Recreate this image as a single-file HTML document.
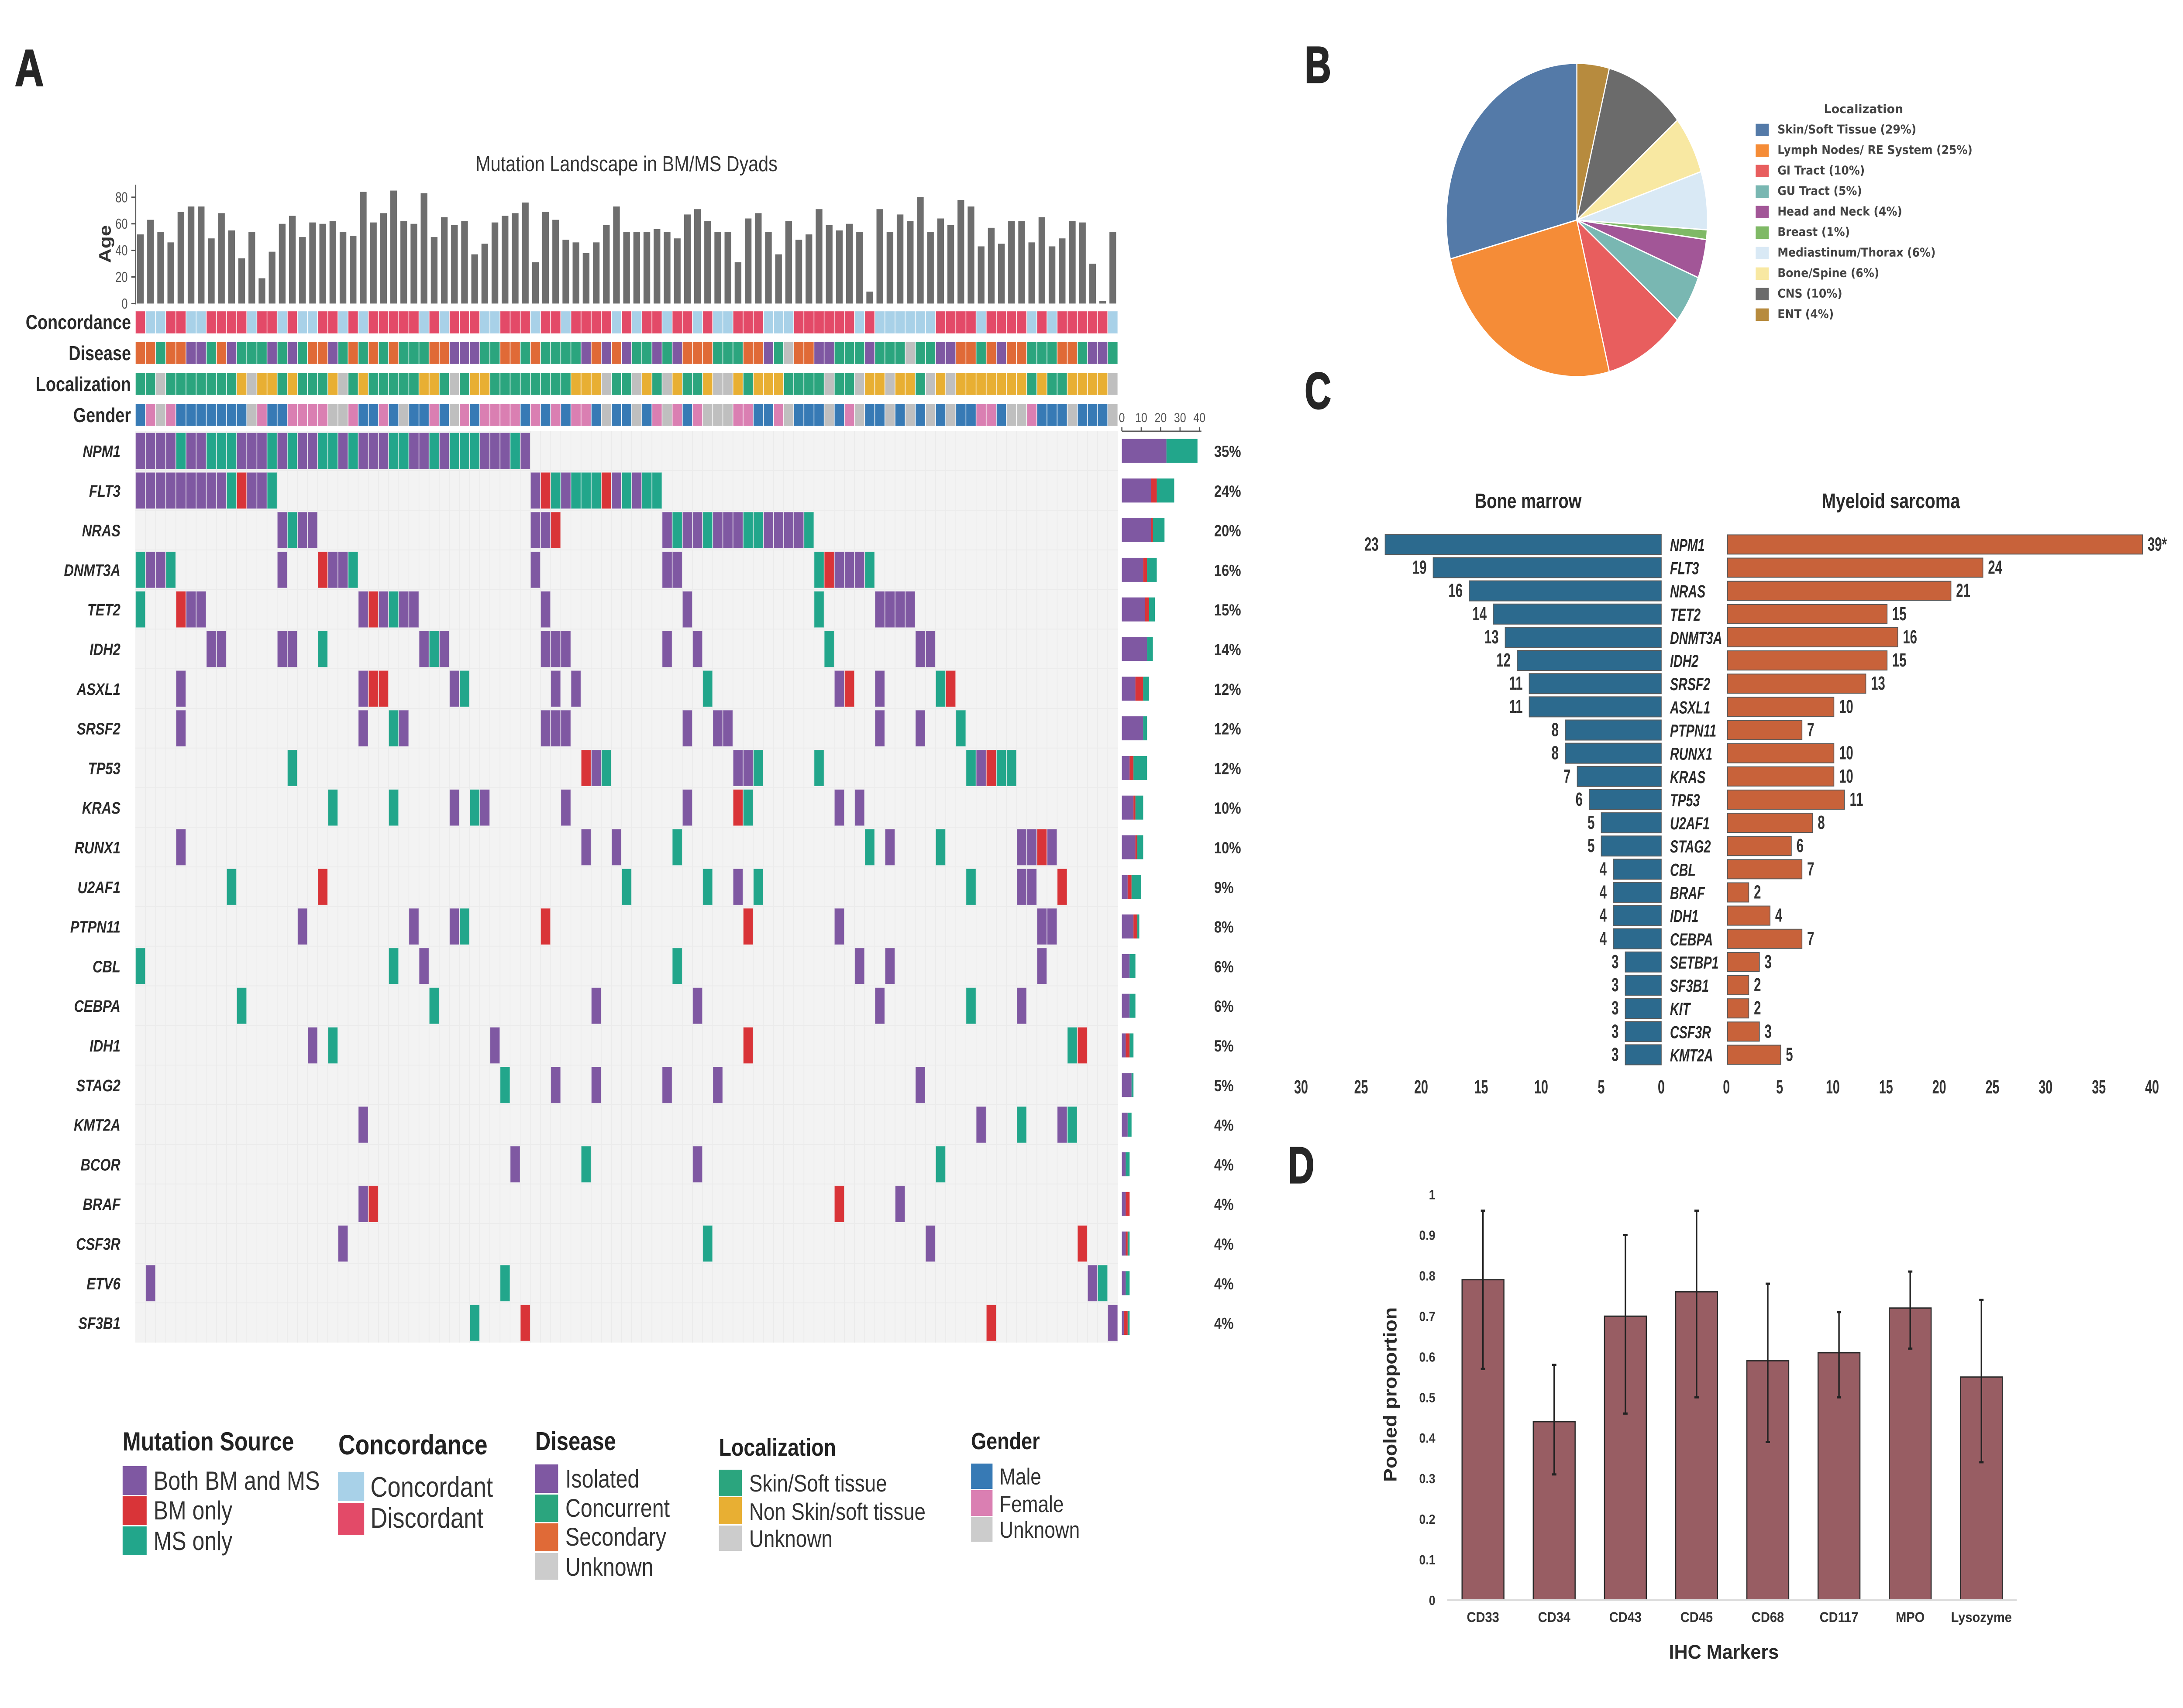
<!DOCTYPE html>
<html lang="en">
<head>
<meta charset="utf-8">
<title>Mutation Landscape in BM/MS Dyads</title>
<style>
html,body{margin:0;padding:0;background:#fff;width:100%;height:100%;overflow:hidden;}
svg{display:block;width:100%;height:100%;}
text{font-family:"Liberation Sans",Arial,sans-serif;}
.bold{font-weight:700;}
.dj{font-family:"DejaVu Sans",sans-serif;font-weight:700;}
.leg{fill:#333;}
.legt{fill:#222;font-weight:700;}
.letter{font-weight:700;fill:#262626;stroke:#262626;stroke-width:3;font-size:118px;}
</style>
</head>
<body>
<svg id="figure" xmlns="http://www.w3.org/2000/svg" viewBox="0 0 6000 3913" preserveAspectRatio="none">
<rect x="0" y="0" width="6000" height="3913" fill="#ffffff"/>

<text class="letter" transform="translate(41 196) scale(.93 1)">A</text>
<text class="letter" transform="translate(3586 189) scale(.85 1)">B</text>
<text class="letter" transform="translate(3586 936) scale(.85 1)">C</text>
<text class="letter" transform="translate(3540 2710) scale(.85 1)">D</text>

<text x="1307" y="392" font-size="49.5" fill="#333" textLength="830" lengthAdjust="spacingAndGlyphs">Mutation Landscape in BM/MS Dyads</text>
<text class="bold" font-size="46" fill="#333" text-anchor="middle" transform="translate(304 559) rotate(-90)">Age</text>

<g id="age-layer"></g>
<g id="track-layer"></g>
<g id="heat-layer"></g>
<g id="stack-layer"></g>

<g>
  <text class="legt" x="337" y="3323" font-size="60" textLength="471" lengthAdjust="spacingAndGlyphs">Mutation Source</text>
  <rect x="337" y="3359" width="66" height="66" fill="#7f58a2"/>
  <rect x="337" y="3428" width="66" height="66" fill="#d93438"/>
  <rect x="337" y="3497" width="66" height="66" fill="#22a68b"/>
  <text class="leg" x="422" y="3413" font-size="60" textLength="457" lengthAdjust="spacingAndGlyphs">Both BM and MS</text>
  <text class="leg" x="422" y="3481" font-size="60">BM only</text>
  <text class="leg" x="422" y="3551" font-size="60">MS only</text>
</g>
<g>
  <text class="legt" x="930" y="3332" font-size="64" textLength="410" lengthAdjust="spacingAndGlyphs">Concordance</text>
  <rect x="929" y="3372" width="72" height="67" fill="#a8d1e8"/>
  <rect x="929" y="3443" width="72" height="73" fill="#e34a68"/>
  <text class="leg" x="1018" y="3429" font-size="65" textLength="337" lengthAdjust="spacingAndGlyphs">Concordant</text>
  <text class="leg" x="1018" y="3500" font-size="65">Discordant</text>
</g>
<g>
  <text class="legt" x="1471" y="3322" font-size="59" textLength="222" lengthAdjust="spacingAndGlyphs">Disease</text>
  <rect x="1471" y="3355" width="63" height="65" fill="#7f58a2"/>
  <rect x="1471" y="3424" width="63" height="63" fill="#2ba57e"/>
  <rect x="1471" y="3490" width="63" height="64" fill="#e06a37"/>
  <rect x="1471" y="3558" width="63" height="61" fill="#cccccc"/>
  <text class="leg" x="1554" y="3408" font-size="58">Isolated</text>
  <text class="leg" x="1554" y="3475" font-size="58">Concurrent</text>
  <text class="leg" x="1554" y="3541" font-size="58">Secondary</text>
  <text class="leg" x="1554" y="3610" font-size="58">Unknown</text>
</g>
<g>
  <text class="legt" x="1976" y="3335" font-size="56" textLength="322" lengthAdjust="spacingAndGlyphs">Localization</text>
  <rect x="1976" y="3367" width="63" height="61" fill="#2ba57e"/>
  <rect x="1976" y="3430" width="63" height="62" fill="#e8af33"/>
  <rect x="1976" y="3495" width="63" height="58" fill="#cccccc"/>
  <text class="leg" x="2059" y="3417" font-size="55">Skin/Soft tissue</text>
  <text class="leg" x="2059" y="3482" font-size="55" textLength="485" lengthAdjust="spacingAndGlyphs">Non Skin/soft tissue</text>
  <text class="leg" x="2059" y="3544" font-size="55">Unknown</text>
</g>
<g>
  <text class="legt" x="2669" y="3320" font-size="54" textLength="189" lengthAdjust="spacingAndGlyphs">Gender</text>
  <rect x="2669" y="3353" width="59" height="58" fill="#377ab5"/>
  <rect x="2669" y="3414" width="59" height="59" fill="#da7fb2"/>
  <rect x="2669" y="3476" width="59" height="56" fill="#cccccc"/>
  <text class="leg" x="2747" y="3401" font-size="53">Male</text>
  <text class="leg" x="2747" y="3464" font-size="53">Female</text>
  <text class="leg" x="2747" y="3523" font-size="53">Unknown</text>
</g>

<g id="pie-layer"></g>
<text class="dj" x="5013" y="259" font-size="27.5" fill="#444" textLength="218" lengthAdjust="spacingAndGlyphs">Localization</text>
<g id="pie-legend-layer"></g>

<text class="bold" x="4053" y="1164" font-size="48" fill="#2a2a2a" textLength="294" lengthAdjust="spacingAndGlyphs">Bone marrow</text>
<text class="bold" x="5007" y="1164" font-size="48" fill="#2a2a2a" textLength="380" lengthAdjust="spacingAndGlyphs">Myeloid sarcoma</text>
<g id="pyramid-layer"></g>

<g id="ihc-layer"></g>
<text class="bold" x="4587" y="3800" font-size="45" fill="#2a2a2a" textLength="302" lengthAdjust="spacingAndGlyphs">IHC Markers</text>
<text class="bold" font-size="50" fill="#2a2a2a" text-anchor="middle" textLength="400" lengthAdjust="spacingAndGlyphs" transform="translate(3838 3195) rotate(-90)">Pooled proportion</text>
</svg>

<script>
/* ---------- Panel A data ---------- */
const ages = [52,63,54,46,69,73,73,49,68,55,34,54,19,39,60,66,50,61,60,62,54,51,84,61,68,85,62,60,83,50,65,59,62,37,45,61,66,68,76,31,69,63,48,46,38,46,59,73,54,54,54,56,54,49,67,71,62,54,54,31,64,68,54,37,62,48,52,71,59,55,60,54,9,71,54,67,62,80,54,64,59,78,73,43,57,45,62,62,46,65,43,49,62,61,30,2,54];
const ageTicks = [0,20,40,60,80];
const concordanceTrack = "DCCDDCCDDDDCDDCDCCDDCDCDDDDDCDCDDDCCDDDCDDCDDDDCDCDDCDDCDCCDDDCCCDDDDDDCDCCCCCCDDDDCDDDDCDCDDDDDC".split("");
const diseaseTrack = "SSCSSIICSICCCICICSSICSCSCSCCCSSIIICCSSCSCCCCISISICCICISSSCCCSSICUSSIICCCICCCUCCIISSCSISSCCCSSCIIC".split("");
const localizationTrack = "KKUKKKKKKKNUNNKNKKKNUKNKKKKKNNKUKNNKKKKKKKKNNNUKKUNKUNKKNUUNKNNNKKKKUKKUNNUNNKUNUNNNNNNNKNKKNNNNU".split("");
const genderTrack = "MFUFMMMMMMMUFMMFFFFUUFMMFMUMMFMUFMFFFFMFMFMFFMUMMUMFUFMFUUUFFMMFUMMMUMFUMMUMUMUMUMMFFMUUFMMMUMMMU".split("");
const oncoGenes = ["NPM1","FLT3","NRAS","DNMT3A","TET2","IDH2","ASXL1","SRSF2","TP53","KRAS","RUNX1","U2AF1","PTPN11","CBL","CEBPA","IDH1","STAG2","KMT2A","BCOR","BRAF","CSF3R","ETV6","SF3B1"];
const oncoPercents = ["35%","24%","20%","16%","15%","14%","12%","12%","12%","10%","10%","9%","8%","6%","6%","5%","5%","4%","4%","4%","4%","4%","4%"];
const samplesBoth = [
 [0,1,2,3,5,6,10,11,12,14,16,17,20,22,23,24,27,28,30,34,35,36,38],
 [0,1,2,3,4,5,6,7,8,11,12,39,42,47,49],
 [14,16,17,39,40,52,54,55,57,58,59,62,63,64,65],
 [1,2,14,19,20,39,52,53,69,70,71],
 [5,6,22,24,26,27,40,54,73,74,75,76],
 [7,8,14,15,28,30,40,41,42,52,55,77,78],
 [4,22,31,41,43,69,73],
 [4,22,26,40,41,42,54,57,58,73,77],
 [45,59,60,83],
 [31,34,42,54,69,71],
 [4,44,47,74,87,88,90],
 [59,87,88],
 [16,27,31,69,89,90],
 [28,71,74,89],
 [45,55,73,87],
 [17,35],
 [41,45,52,57,77],
 [22,83,91],
 [37,55],
 [22,75],
 [20,78],
 [1,94],
 [96]
];
const samplesBMOnly = [
 [],[10,40,46],[41],[18,68],[4,23],[],[23,24,70,80],[],[44,84],[59],[89],[18,91],[40,60],[],[],[60,93],[],[],[],[23,69],[93],[],[38,84]
];
const samplesMSOnly = [
 [4,7,8,9,13,15,18,19,21,25,26,29,31,32,33,37],
 [9,13,41,43,44,45,48,50,51],
 [15,53,56,60,61,66],
 [0,3,21,67,72],
 [0,25,67],
 [18,29,68],
 [32,56,79],
 [25,81],
 [15,46,61,67,82,85,86],
 [19,25,33,60],
 [53,72,79],
 [9,48,56,61,82],
 [32],
 [0,25,53],
 [10,29,82],
 [19,92],
 [36],
 [87,92],
 [44,79],
 [],
 [56],
 [36,95],
 [33]
];
const freqBoth = [23,15,15,11,12,13,7,11,4,6,7,3,6,4,4,2,5,3,2,2,2,2,1];
const freqBM = [0,3,1,2,2,0,4,0,2,1,1,2,2,0,0,2,0,0,0,2,1,0,2];
const freqMS = [16,9,6,5,3,3,3,2,7,4,3,5,1,3,3,2,1,2,2,0,1,2,1];
const freqTicks = [0,10,20,30,40];

/* ---------- Panel B data ---------- */
const pieNames = ["Skin/Soft Tissue","Lymph Nodes/ RE System","GI Tract","GU Tract","Head and Neck","Breast","Mediastinum/Thorax","Bone/Spine","CNS","ENT"];
const pieValues = [29,25,10,5,4,1,6,6,10,4];

/* ---------- Panel C data ---------- */
const pyramidGenes = ["NPM1","FLT3","NRAS","TET2","DNMT3A","IDH2","SRSF2","ASXL1","PTPN11","RUNX1","KRAS","TP53","U2AF1","STAG2","CBL","BRAF","IDH1","CEBPA","SETBP1","SF3B1","KIT","CSF3R","KMT2A"];
const boneMarrowCounts = [23,19,16,14,13,12,11,11,8,8,7,6,5,5,4,4,4,4,3,3,3,3,3];
const sarcomaCounts = [39,24,21,15,16,15,13,10,7,10,10,11,8,6,7,2,4,7,3,2,2,3,5];
const boneMarrowTicks = [30,25,20,15,10,5,0];
const sarcomaTicks = [0,5,10,15,20,25,30,35,40];

/* ---------- Panel D data ---------- */
const ihcMarkers = ["CD33","CD34","CD43","CD45","CD68","CD117","MPO","Lysozyme"];
const ihcValues = [0.79,0.44,0.70,0.76,0.59,0.61,0.72,0.55];
const ihcLower = [0.57,0.31,0.46,0.50,0.39,0.50,0.62,0.34];
const ihcUpper = [0.96,0.58,0.90,0.96,0.78,0.71,0.81,0.74];
const ihcTicks = ["0","0.1","0.2","0.3","0.4","0.5","0.6","0.7","0.8","0.9","1"];

/* ---------- Helpers and axis functions ---------- */
const NS = "http://www.w3.org/2000/svg";
function shape(parent, tag, props) {
  const el = document.createElementNS(NS, tag);
  for (const k in props) el.setAttribute(k, props[k]);
  parent.appendChild(el);
  return el;
}
function label(parent, str, x, y, size, o) {
  o = o || {};
  const el = document.createElementNS(NS, "text");
  el.textContent = str;
  el.setAttribute("transform", "translate(" + x + " " + y + ") scale(" + (o.sx || 1) + " 1)");
  el.setAttribute("font-size", size);
  el.setAttribute("fill", o.fill || "#333");
  el.setAttribute("text-anchor", o.anchor || "start");
  if (o.bold) el.setAttribute("font-weight", "700");
  if (o.italic) el.setAttribute("font-style", "italic");
  if (o.family) el.setAttribute("style", "font-family:" + o.family);
  parent.appendChild(el);
  return el;
}
const colX = i => 372 + 27.84 * i;
const ageY = v => 695.4 - 3.045 * v;
const rowCenter = i => 1033 + 90.8 * i;
const freqX = v => 3083.4 + 5.33 * v;
const bmX = v => 4566 - 33 * v;
const msX = v => 4748 + 29.25 * v;
const pyrRow = i => 1247.4 + 53.14 * i;
const propY = v => 3666 - 929.5 * v;
const ihcX = i => 4076 + 195.7 * i;

/* ---------- Age bars ---------- */
const ageLayer = document.getElementById("age-layer");
ages.forEach((v, i) => {
  const bar = shape(ageLayer, "rect", {x: colX(i) + 4.7, y: ageY(v), width: 18.4, height: ageY(0) - ageY(v), fill: "#6e6e6e"});
  
  
});
const ageAxis = shape(ageLayer, "line", {x1: 373, x2: 373, y1: 423, y2: ageY(0) + 2, stroke: "#555", "stroke-width": 3});


ageTicks.forEach(v => {
  const tick = shape(ageLayer, "line", {x1: 361, x2: 373, y1: ageY(v), y2: ageY(v), stroke: "#555", "stroke-width": 3});
  
  
  const t = label(ageLayer, String(v), 351, ageY(v) + 11.5, 33, {anchor: "end", sx: .92, fill: "#555"});
  
  
});

/* ---------- Annotation tracks ---------- */
const trackLayer = document.getElementById("track-layer");
const trackDefs = [
  {title: "Concordance", codes: concordanceTrack, top: 713, base: 754, colors: {C: "#a8d1e8", D: "#e34a68"}},
  {title: "Disease", codes: diseaseTrack, top: 783, base: 825, colors: {I: "#7f58a2", C: "#2ba57e", S: "#e06a37", U: "#bfbfbf"}},
  {title: "Localization", codes: localizationTrack, top: 854, base: 896, colors: {K: "#2ba57e", N: "#e8af33", U: "#bfbfbf"}},
  {title: "Gender", codes: genderTrack, top: 925, base: 967, colors: {M: "#377ab5", F: "#da7fb2", U: "#bfbfbf"}}
];
trackDefs.forEach(tr => {
  const t = label(trackLayer, tr.title, 360, tr.base, 46, {anchor: "end", bold: true, sx: .985, fill: "#2a2a2a"});
  
  
  tr.codes.forEach((c, i) => {
    const cell = shape(trackLayer, "rect", {x: colX(i) + .7, y: tr.top, width: 26.4, height: 51, fill: tr.colors[c], stroke: "#ffffff", "stroke-opacity": .35, "stroke-width": 1.2});
    
    
  });
});

/* ---------- Heatmap ---------- */
const heatLayer = document.getElementById("heat-layer");
const heatBg = shape(heatLayer, "rect", {x: 372, y: 987.3, width: colX(97) - 372, height: 90.8 * oncoGenes.length, fill: "#f3f3f3"});


ages.forEach((_, i) => {
  if (i === 0) return;
  const g = shape(heatLayer, "line", {x1: colX(i), x2: colX(i), y1: 987.3, y2: 987.3 + 90.8 * oncoGenes.length, stroke: "#ebebeb", "stroke-width": 2});
  
  
});
oncoGenes.forEach((gene, r) => {
  if (r > 0) {
    const g = shape(heatLayer, "line", {x1: 372, x2: colX(97), y1: rowCenter(r) - 45.7, y2: rowCenter(r) - 45.7, stroke: "#ebebeb", "stroke-width": 2});
    
    
  }
  const t = label(heatLayer, gene, 331, rowCenter(r) + 14, 38, {anchor: "end", bold: true, italic: true, sx: .98, fill: "#2a2a2a"});
  
  
  const pct = label(heatLayer, oncoPercents[r], 3337, rowCenter(r) + 14, 37, {bold: true, fill: "#333"});
  
  
  [[samplesBoth, "#7f58a2", "both"], [samplesBMOnly, "#d93438", "bm"], [samplesMSOnly, "#22a68b", "ms"]].forEach(set => {
    set[0][r].forEach(c => {
      const cell = shape(heatLayer, "rect", {x: colX(c) + .7, y: rowCenter(r) - 41.5, width: 26.4, height: 83, fill: set[1], stroke: "#ffffff", "stroke-opacity": .35, "stroke-width": 1.2});
      
      
    });
  });
});

/* ---------- Stacked frequency bars ---------- */
const stackLayer = document.getElementById("stack-layer");
oncoGenes.forEach((gene, r) => {
  let cum = 0;
  [[freqBoth, "#7f58a2", "both"], [freqBM, "#d93438", "bm"], [freqMS, "#22a68b", "ms"]].forEach(s => {
    const v = s[0][r];
    if (v > 0) {
      const seg = shape(stackLayer, "rect", {x: freqX(cum), y: rowCenter(r) - 27.5, width: freqX(cum + v) - freqX(cum), height: 55, fill: s[1]});
      
      
    }
    cum += v;
  });
});
const fAxis = shape(stackLayer, "line", {x1: freqX(0), x2: 3302, y1: 988, y2: 988, stroke: "#555", "stroke-width": 3});


freqTicks.forEach(v => {
  const tick = shape(stackLayer, "line", {x1: freqX(v), x2: freqX(v), y1: 979, y2: 988, stroke: "#555", "stroke-width": 3});
  
  
  const t = label(stackLayer, String(v), freqX(v), 967, 30, {anchor: "middle", fill: "#555"});
  
  
});

/* ---------- Pie ---------- */
const pieLayer = document.getElementById("pie-layer");
const pieLegendLayer = document.getElementById("pie-legend-layer");
const pieColors = ["#547aa8","#f58c37","#e85e5e","#79b7b2","#a25697","#7fb966","#d9e9f5","#f8e8a2","#6b6b6b","#b78b3e"];
const pieTotal = pieValues.reduce((a, b) => a + b, 0);
const pieCx = 4334, pieCy = 504, pieR = 359;
function piePoint(f) {
  const a = f * 2 * Math.PI;
  return [pieCx - pieR * Math.sin(a), pieCy - pieR * Math.cos(a)];
}
let pieCum = 0;
pieValues.forEach((v, i) => {
  const p0 = piePoint(pieCum / pieTotal);
  pieCum += v;
  const p1 = piePoint(pieCum / pieTotal);
  const large = v / pieTotal > .5 ? 1 : 0;
  const slice = shape(pieLayer, "path", {
    d: "M" + pieCx + " " + pieCy + "L" + p0[0] + " " + p0[1] + "A" + pieR + " " + pieR + " 0 " + large + " 0 " + p1[0] + " " + p1[1] + "Z",
    fill: pieColors[i], stroke: "#ffffff", "stroke-width": 3
  });
  
  
  const sw = shape(pieLegendLayer, "rect", {x: 4825.5, y: 283.6 + 47 * i, width: 35.7, height: 28.4, fill: pieColors[i]});
  
  
  const t = label(pieLegendLayer, pieNames[i] + " (" + v + "%)", 4885.5, 305.5 + 47 * i, 27.5, {sx: 1.09, fill: "#444", family: '"DejaVu Sans",sans-serif;font-weight:700'});
  
  
});

/* ---------- Pyramid ---------- */
const pyrLayer = document.getElementById("pyramid-layer");
pyramidGenes.forEach((gene, i) => {
  const cy = pyrRow(i);
  const bmBar = shape(pyrLayer, "rect", {x: bmX(boneMarrowCounts[i]), y: cy - 23, width: bmX(0) - bmX(boneMarrowCounts[i]), height: 46, fill: "#2c6a8e", stroke: "#5a5a5a", "stroke-width": 2});
  
  
  const msBar = shape(pyrLayer, "rect", {x: msX(0), y: cy - 22, width: msX(sarcomaCounts[i]) - msX(0), height: 44, fill: "#c8623a", stroke: "#5a5a5a", "stroke-width": 2});
  
  
  const bmText = label(pyrLayer, String(boneMarrowCounts[i]), bmX(boneMarrowCounts[i]) - 18, cy + 14, 44, {anchor: "end", bold: true, sx: .8, fill: "#333"});
  
  
  const msStr = sarcomaCounts[i] + (i === 0 ? "*" : "");
  const msText = label(pyrLayer, msStr, msX(sarcomaCounts[i]) + 14, cy + 14, 44, {bold: true, sx: .8, fill: "#333"});
  
  
  const g = label(pyrLayer, gene, 4590, cy + 15, 40, {bold: true, italic: true, sx: .86, fill: "#2a2a2a"});
  
  
});
boneMarrowTicks.forEach(v => {
  const t = label(pyrLayer, String(v), bmX(v) , 2505, 44, {anchor: "middle", bold: true, sx: .78, fill: "#333"});
  
  
});
sarcomaTicks.forEach(v => {
  const t = label(pyrLayer, String(v), msX(v) - 3, 2505, 44, {anchor: "middle", bold: true, sx: .78, fill: "#333"});
  
  
});

/* ---------- IHC bars ---------- */
const ihcLayer = document.getElementById("ihc-layer");
ihcTicks.forEach(s => {
  const t = label(ihcLayer, s, 3945, propY(Number(s)) + 11, 31, {anchor: "end", bold: true, sx: 1.03, fill: "#333"});
  
  
});
ihcMarkers.forEach((m, i) => {
  const cx = ihcX(i);
  const bar = shape(ihcLayer, "rect", {x: cx - 57.5, y: propY(ihcValues[i]), width: 115, height: propY(0) - propY(ihcValues[i]), fill: "#985d63", stroke: "#2a2a2a", "stroke-width": 3});
  
  
  const err = shape(ihcLayer, "line", {x1: cx, x2: cx, y1: propY(ihcLower[i]), y2: propY(ihcUpper[i]), stroke: "#222", "stroke-width": 4});
  
  
  [ihcLower[i], ihcUpper[i]].forEach(v => {
    const cap = shape(ihcLayer, "line", {x1: cx - 6, x2: cx + 6, y1: propY(v), y2: propY(v), stroke: "#222", "stroke-width": 5});
    
    
  });
  const t = label(ihcLayer, m, cx, 3716, 32, {anchor: "middle", bold: true, sx: 1.09, fill: "#333"});
  
  
});
const ihcAxis = shape(ihcLayer, "line", {x1: 3978, x2: 5543, y1: propY(0), y2: propY(0), stroke: "#dddddd", "stroke-width": 4});


</script>
</body>
</html>
